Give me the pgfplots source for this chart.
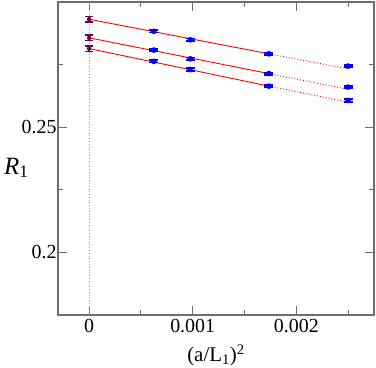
\documentclass[border=0pt]{standalone}
\usepackage{fontspec}
\setmainfont{Liberation Serif}
\usepackage{pgfplots}
\pgfplotsset{compat=1.18}
\definecolor{gmaroon}{RGB}{103,7,72}
\definecolor{gblue}{RGB}{0,0,255}
\definecolor{gred}{RGB}{255,0,0}
\definecolor{frame}{RGB}{110,110,110}
\newcommand{\tl}{\fontsize{20}{22}\selectfont}

\begin{document}
\begin{tikzpicture}
\begin{axis}[
    name=ax,
    scale only axis,
    width=316bp, height=313bp,
    xmin=-0.0003, xmax=0.00275,
    ymin=0.175, ymax=0.3,
    xtick={0,0.001,0.002},
    xticklabels={\tl 0,\tl 0.001,\tl 0.002},
    minor xtick={0.0005,0.0015,0.0025},
    ytick={0.2,0.25},
    yticklabels={\tl 0.2,\tl 0.25},
    minor ytick={0.225,0.275},
    tick align=inside,
    major tick length=9bp,
    minor tick length=5bp,
    axis line style={frame, line width=1.6bp},
    every tick/.style={frame, line width=1bp},
    scaled x ticks=false,
    xticklabel style={yshift=-1bp},
    yticklabel style={xshift=2bp},
    xlabel={\fontsize{21}{23}\selectfont(a/L\textsubscript{1})\textsuperscript{2}},
    every axis x label/.style={at={(rel axis cs:0.5,0)}, anchor=north, yshift=-26bp},
    ylabel={\fontsize{25}{27}\selectfont\textit{R}\textsubscript{1}},
    every axis y label/.style={at={(rel axis cs:0,0.47)}, anchor=east, xshift=-26bp},
    clip=false,
]
% vertical dotted guide at x=0
\addplot[frame!70, dotted, line width=0.8bp] coordinates {(0,0.175) (0,0.3)};

% fit lines: solid over fitted range, dotted extrapolation
\addplot[gred, line width=0.9bp] coordinates {(0,0.2931) (0.001736,0.2793)};
\addplot[gred, dotted, line width=0.9bp] coordinates {(0.001736,0.2793) (0.0025,0.2733)};
\addplot[gred, line width=0.9bp] coordinates {(0,0.2857) (0.001736,0.2714)};
\addplot[gred, dotted, line width=0.9bp] coordinates {(0.001736,0.2714) (0.0025,0.2651)};
\addplot[gred, line width=0.9bp] coordinates {(0,0.2814) (0.001736,0.2664)};
\addplot[gred, dotted, line width=0.9bp] coordinates {(0.001736,0.2664) (0.0025,0.2600)};

% lattice data
\addplot[gblue, only marks, mark=none, line width=1.6bp,
    error bars/.cd, y dir=both, y explicit,
    error mark options={rotate=90, mark size=4.5bp, line width=1.8bp, gblue},
    error bar style={line width=1.8bp, gblue}]
coordinates {
    (0.000625,0.2883) +- (0,0.0005)
    (0.000977,0.2849) +- (0,0.0005)
    (0.001736,0.2793) +- (0,0.0004)
    (0.0025,0.2744) +- (0,0.0005)
    (0.000625,0.2808) +- (0,0.0005)
    (0.000977,0.2773) +- (0,0.0005)
    (0.001736,0.2714) +- (0,0.0004)
    (0.0025,0.2660) +- (0,0.0005)
    (0.000625,0.2763) +- (0,0.0005)
    (0.000977,0.2730) +- (0,0.0006)
    (0.001736,0.2664) +- (0,0.0004)
    (0.0025,0.2607) +- (0,0.0005)
};

% continuum extrapolation
\addplot[gmaroon, only marks, mark=none,
    error bars/.cd, y dir=both, y explicit,
    error mark options={rotate=90, mark size=4bp, line width=1.6bp, gmaroon},
    error bar style={line width=1.6bp, gmaroon}]
coordinates {
    (0,0.2931) +- (0,0.0011)
    (0,0.2857) +- (0,0.0011)
    (0,0.2814) +- (0,0.0011)
};
\end{axis}
\pgfresetboundingbox
\path ([xshift=-58bp,yshift=-53bp]ax.south west) rectangle ([xshift=2bp,yshift=2bp]ax.north east);
\end{tikzpicture}
\end{document}
